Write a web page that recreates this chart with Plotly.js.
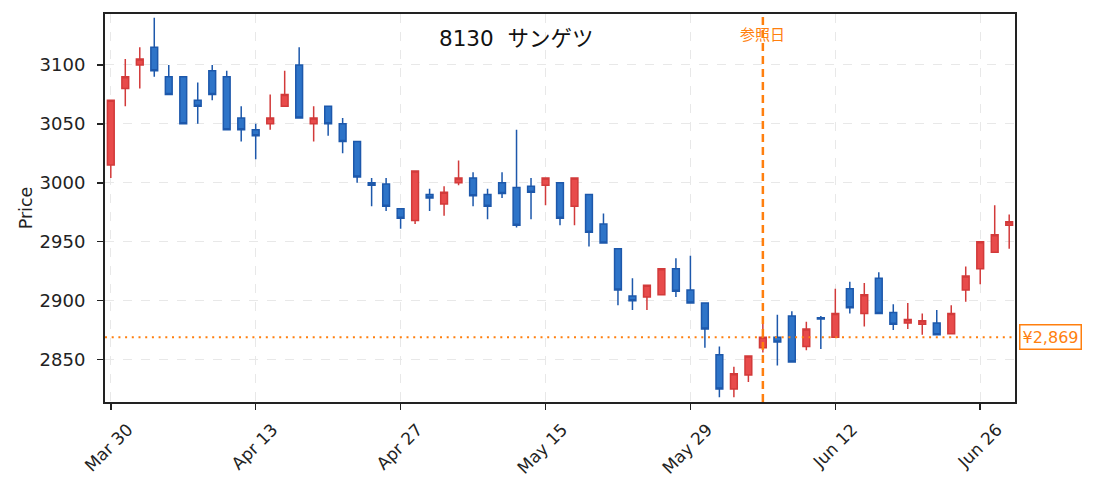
<!DOCTYPE html>
<html>
<head>
<meta charset="utf-8">
<script src="https://cdn.plot.ly/plotly-3.0.1.min.js"></script>
<style>
html,body{margin:0;padding:0;background:#fff;}
#chart{width:1095px;height:492px;}
</style>
</head>
<body>
<div id="chart"></div>
<script>
const dates = [
  '2026-03-30','2026-03-31','2026-04-01','2026-04-02','2026-04-03',
  '2026-04-06','2026-04-07','2026-04-08','2026-04-09','2026-04-10',
  '2026-04-13','2026-04-14','2026-04-15','2026-04-16','2026-04-17',
  '2026-04-20','2026-04-21','2026-04-22','2026-04-23','2026-04-24',
  '2026-04-27','2026-04-28','2026-04-30','2026-05-01','2026-05-07',
  '2026-05-08','2026-05-11','2026-05-12','2026-05-13','2026-05-14',
  '2026-05-15','2026-05-18','2026-05-19','2026-05-20','2026-05-21',
  '2026-05-22','2026-05-25','2026-05-26','2026-05-27','2026-05-28',
  '2026-05-29','2026-06-01','2026-06-02','2026-06-03','2026-06-04',
  '2026-06-05','2026-06-08','2026-06-09','2026-06-10','2026-06-11',
  '2026-06-12','2026-06-15','2026-06-16','2026-06-17','2026-06-18',
  '2026-06-19','2026-06-22','2026-06-23','2026-06-24','2026-06-25',
  '2026-06-26','2026-06-29','2026-06-30'
];
const openP = [
  3015,3080,3100,3115,3090, 3090,3070,3095,3090,3055,
  3045,3050,3065,3100,3050, 3065,3050,3035,3000,2999,
  2978,2968,2990,2982,3000, 3004,2990,3000,2996,2997,
  2998,3000,2980,2990,2965, 2944,2904,2903,2905,2927,
  2909,2898,2854,2825,2837, 2860,2869,2887,2861,2885.5,
  2869,2910,2889,2919,2890, 2881,2880,2881,2872,2909,
  2927,2941,2964
];
const highP = [
  3070,3105,3115,3140,3100, 3090,3085,3100,3095,3065,
  3050,3075,3095,3115,3065, 3065,3055,3035,3004,3004,
  2978,3010,2995,2997,3019, 3009,2995,3009,3045,3004,
  3004,3000,3004,2990,2974, 2944,2919,2913,2927,2936,
  2938,2898,2861,2844,2853, 2883,2888,2891,2882,2887,
  2910,2916,2915,2924,2897, 2898,2889,2892,2896,2929,
  2950,2981,2973
];
const lowP = [
  3004,3065,3080,3090,3075, 3050,3050,3070,3045,3035,
  3020,3045,3065,3055,3035, 3040,3025,3000,2980,2976,
  2961,2965,2976,2972,2998, 2980,2969,2987,2962,2969,
  2981,2964,2964,2946,2949, 2896,2892,2892,2905,2903,
  2898,2860,2818,2818,2831, 2856,2845,2848,2858,2859,
  2869,2889,2878,2889,2875, 2876,2871,2871,2872,2899,
  2914,2941,2944
];
const closeP = [
  3070,3090,3105,3095,3075, 3050,3065,3075,3045,3045,
  3040,3055,3075,3055,3055, 3050,3035,3005,2998,2980,
  2970,3010,2987,2992,3004, 2989,2980,2991,2964,2992,
  3004,2970,3004,2958,2949, 2909,2900,2913,2927,2908,
  2898,2876,2825,2838,2853, 2869,2865,2848,2876,2884.5,
  2889,2894,2905,2889,2880, 2884,2883,2871,2889,2921,
  2950,2956,2967
];
const tickDates = ['2026-03-30','2026-04-13','2026-04-27','2026-05-15','2026-05-29','2026-06-12','2026-06-26'];
const tickLabels = ['Mar 30','Apr 13','Apr 27','May 15','May 29','Jun 12','Jun 26'];
const titleText = '8130\u00a0\u00a0サンゲツ';
const refDate = '2026-06-05';
const refLabel = '参照日';
const refPrice = 2869;
const refPriceLabel = '¥2,869';

const FONT = 'DejaVu Sans, Noto Sans CJK JP, sans-serif';
const ORANGE = '#ff7f0e';

const trace = {
  type: 'candlestick',
  x: dates,
  open: openP, high: highP, low: lowP, close: closeP,
  whiskerwidth: 0,
  increasing: {line: {color: '#d23a3a', width: 1.5}, fillcolor: '#e84b4b'},
  decreasing: {line: {color: '#1d58ab', width: 1.5}, fillcolor: '#2e74c8'},
  hoverinfo: 'skip',
  showlegend: false
};

const layout = {
  width: 1095, height: 492,
  margin: {l: 105, r: 80, t: 14, b: 90},
  paper_bgcolor: '#fff', plot_bgcolor: '#fff',
  font: {family: FONT, size: 17.5, color: '#222'},
  showlegend: false,
  boxgap: 0.33,
  xaxis: {
    type: 'category',
    range: [-0.4, 62.4],
    rangeslider: {visible: false},
    tickmode: 'array',
    tickvals: tickDates,
    ticktext: tickLabels,
    tickangle: -45,
    ticklabelshift: 17,
    ticklabelstandoff: 3,
    ticks: 'outside', ticklen: 6, tickwidth: 1.5, tickcolor: '#222',
    showline: true, mirror: true, linecolor: '#222', linewidth: 2,
    showgrid: true, gridcolor: '#e8e8e8', griddash: 'dash', gridwidth: 1,
    zeroline: false,
    automargin: false,
    tickfont: {family: FONT, size: 17, color: '#222'}
  },
  yaxis: {
    range: [2814, 3143.2],
    dtick: 50, tick0: 0,
    ticks: 'outside', ticklen: 6, tickwidth: 1.5, tickcolor: '#222',
    ticklabelstandoff: 8,
    showline: true, mirror: true, linecolor: '#222', linewidth: 2,
    showgrid: true, gridcolor: '#e8e8e8', griddash: 'dash', gridwidth: 1,
    zeroline: false,
    automargin: false,
    tickfont: {family: FONT, size: 18, color: '#222'},
    title: {text: 'Price', font: {family: FONT, size: 17.5, color: '#222'}, standoff: 2}
  },
  shapes: [
    {type: 'line', xref: 'paper', yref: 'y', x0: 0, x1: 1, y0: refPrice, y1: refPrice,
     line: {color: ORANGE, width: 2, dash: '2px,4.7px'}, layer: 'above'},
    {type: 'line', xref: 'x', yref: 'paper', x0: refDate, x1: refDate, y0: 0, y1: 1,
     line: {color: ORANGE, width: 2.5, dash: '8px,5px'}, layer: 'above'}
  ],
  annotations: [
    {text: titleText, xref: 'paper', yref: 'paper', x: 0.4515, y: 0.9357,
     xanchor: 'center', yanchor: 'middle', showarrow: false,
     font: {family: FONT, size: 21.5, color: '#111'}},
    {text: refLabel, xref: 'x', yref: 'paper', x: refDate, y: 0.9485,
     xanchor: 'center', yanchor: 'middle', showarrow: false,
     font: {family: 'Noto Sans CJK JP, DejaVu Sans, sans-serif', size: 15, color: ORANGE}},
    {text: refPriceLabel, xref: 'paper', yref: 'y', x: 1, y: refPrice,
     xanchor: 'left', yanchor: 'middle', xshift: 4, showarrow: false,
     bgcolor: '#fff', bordercolor: ORANGE, borderwidth: 1.5, borderpad: 2,
     font: {family: FONT, size: 16, color: ORANGE}}
  ]
};

Plotly.newPlot('chart', [trace], layout, {staticPlot: true, displayModeBar: false});
</script>
</body>
</html>
